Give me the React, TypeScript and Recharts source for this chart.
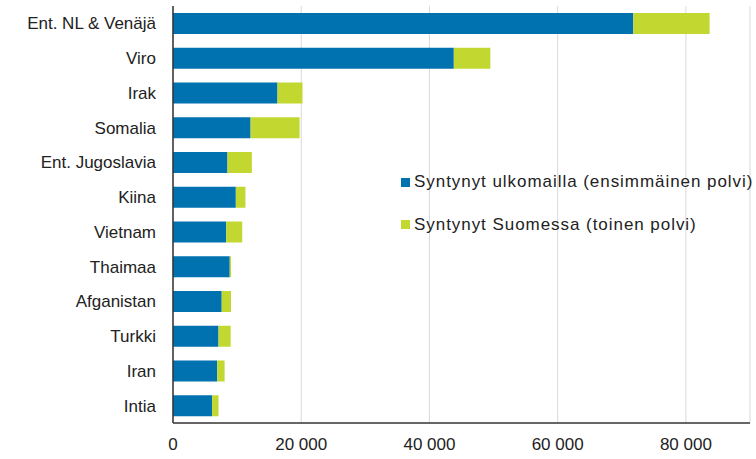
import React from "react";
import { BarChart, Bar, XAxis, YAxis, CartesianGrid } from "recharts";

const countries = [
  "Ent. NL & Venäjä",
  "Viro",
  "Irak",
  "Somalia",
  "Ent. Jugoslavia",
  "Kiina",
  "Vietnam",
  "Thaimaa",
  "Afganistan",
  "Turkki",
  "Iran",
  "Intia",
];
const bornAbroad = [71800, 43800, 16300, 12100, 8500, 9800, 8300, 8850, 7600, 7100, 6900, 6100];
const bornInFinland = [11900, 5700, 3900, 7650, 3800, 1500, 2500, 200, 1450, 1900, 1150, 1000];
const xTicks = [0, 20000, 40000, 60000, 80000];

const seriesNames = [
  "Syntynyt ulkomailla (ensimmäinen polvi)",
  "Syntynyt Suomessa (toinen polvi)",
];
const colors = ["#0072B0", "#C2D830"];

const data = countries.map((c, i) => ({
  name: c,
  a: bornAbroad[i],
  b: bornInFinland[i],
}));

const FONT = "'Liberation Sans', Arial, sans-serif";

const fmt = (v: number) =>
  v === 0 ? "0" : String(v).replace(/\B(?=(\d{3})+(?!\d))/g, " ");

const LegendBox = () => (
  <div
    style={{
      position: "absolute",
      left: 401,
      top: 172,
      fontFamily: FONT,
      fontSize: 17,
      color: "#222",
      letterSpacing: 0.95,
    }}
  >
    {seriesNames.map((n, i) => (
      <div
        key={n}
        style={{ display: "flex", alignItems: "center", height: 20, marginBottom: i === 0 ? 22.5 : 0 }}
      >
        <span
          style={{ width: 9, height: 9, background: colors[i], display: "inline-block", marginRight: 4 }}
        />
        <span style={{ whiteSpace: "nowrap" }}>{n}</span>
      </div>
    ))}
  </div>
);

export default function App() {
  return (
    <div style={{ position: "absolute", left: 0, top: 0, width: 756, height: 459, background: "#fff" }}>
      <BarChart
        width={756}
        height={459}
        data={data}
        layout="vertical"
        margin={{ top: 6, right: 6, left: 0, bottom: 0 }}
        barSize={21}
      >
        <CartesianGrid horizontal={false} stroke="#d9d9d9" strokeWidth={1} />
        <XAxis
          type="number"
          domain={[0, 90000]}
          ticks={xTicks}
          tickFormatter={fmt}
          height={36}
          tickSize={0}
          tickMargin={15}
          stroke="#333"
          strokeWidth={1.5}
          tick={{ fill: "#222", fontSize: 17, fontFamily: FONT }}
          allowDataOverflow
        />
        <YAxis
          type="category"
          dataKey="name"
          width={173}
          tickSize={0}
          tickMargin={17}
          stroke="#333"
          strokeWidth={1.5}
          interval={0}
          tick={{ fill: "#222", fontSize: 17, fontFamily: FONT }}
        />
        <Bar dataKey="a" stackId="s" fill={colors[0]} isAnimationActive={false} name={seriesNames[0]} />
        <Bar dataKey="b" stackId="s" fill={colors[1]} isAnimationActive={false} name={seriesNames[1]} />
      </BarChart>
      <LegendBox />
    </div>
  );
}
